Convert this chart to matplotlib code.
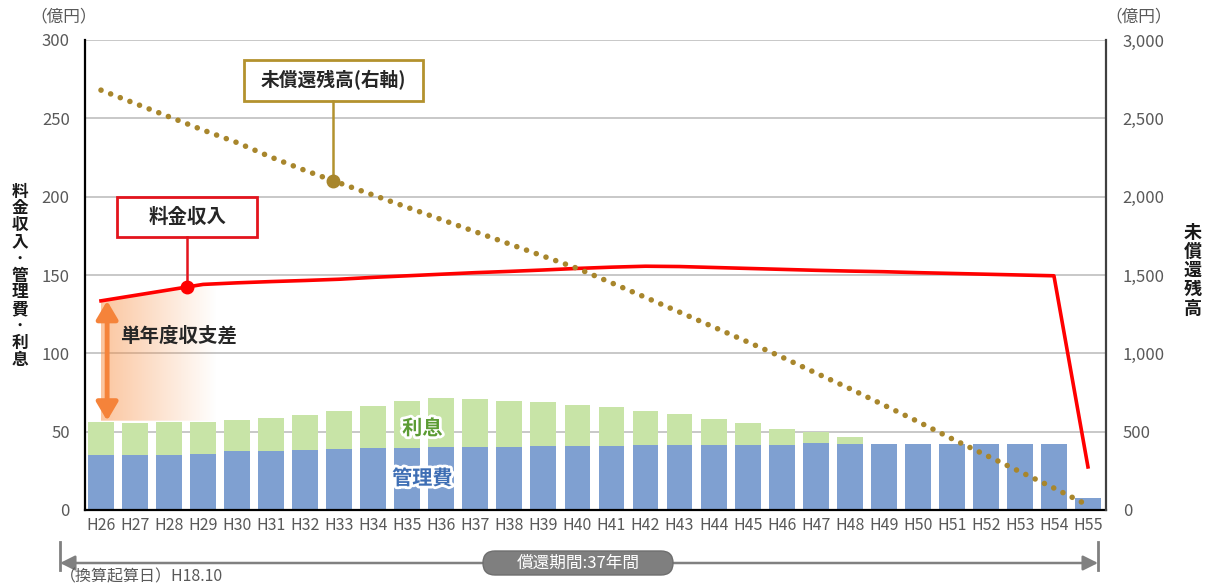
import matplotlib.pyplot as plt
import numpy as np
import matplotlib.patheffects as pe
from matplotlib.patches import Rectangle, FancyBboxPatch, Polygon
from matplotlib.lines import Line2D
from matplotlib.ticker import FuncFormatter

plt.rcParams['font.family'] = ['Noto Sans CJK JP', 'DejaVu Sans']

# --- data (億円) ---
years = ['H%d' % y for y in range(26, 56)]
kanri = [34.8, 35.0, 35.4, 36.0, 37.7, 37.7, 38.1, 38.7, 39.6, 39.8,
         40.0, 40.2, 40.2, 40.9, 40.9, 40.9, 41.3, 41.3, 41.3, 41.3,
         41.5, 42.6, 42.1, 42.1, 42.1, 42.1, 42.1, 42.1, 42.1, 7.7]
rishi = [21.2, 20.5, 20.6, 20.0, 19.8, 20.8, 22.5, 24.3, 27.0, 30.0,
         31.5, 30.7, 29.6, 27.8, 26.1, 24.6, 21.9, 20.0, 16.6, 14.0,
         10.4, 7.2, 4.5, 0, 0, 0, 0, 0, 0, 0]
ryokin = [133.5, 137.0, 140.5, 144.0, 145.0, 145.8, 146.5, 147.3, 148.5, 149.5,
          150.5, 151.5, 152.3, 153.2, 154.2, 155.0, 155.6, 155.4, 154.8, 154.2,
          153.6, 153.0, 152.5, 152.1, 151.5, 151.0, 150.5, 150.0, 149.5, 27.5]
zandaka = [2680, 2595, 2510, 2425, 2345, 2252, 2167, 2088, 2010, 1932,
           1854, 1776, 1698, 1620, 1542, 1450, 1357, 1263, 1168, 1073,
           977, 875, 775, 670, 565, 455, 350, 245, 140, 30]

BLUE = '#7FA0D1'
GREEN = '#C8E4A7'
RED = '#FF0000'
GOLD = '#A8862C'
GRAY = '#595959'

fig = plt.figure(figsize=(12.06, 5.88), dpi=100)
ax = fig.add_axes([85 / 1206, 78 / 588, 1021 / 1206, 470 / 588])
ax2 = ax.twinx()

x = np.arange(len(years))

ax.bar(x, kanri, width=0.76, color=BLUE, zorder=2)
ax.bar(x, rishi, width=0.76, bottom=kanri, color=GREEN, zorder=2)
ax.plot(x, ryokin, color=RED, lw=2.6, zorder=4)

# gradient for 単年度収支差
base = kanri[0] + rishi[0] + 1
gx = np.linspace(0.0, 3.4, 60)
top = np.interp(gx, x, ryokin)
poly = Polygon(list(zip(gx, top)) + [(gx[-1], base), (gx[0], base)], closed=True,
               facecolor='none', edgecolor='none', transform=ax.transData)
ax.add_patch(poly)
grad = np.zeros((1, 256, 4))
grad[..., 0], grad[..., 1], grad[..., 2] = 0.97, 0.55, 0.25
grad[..., 3] = np.linspace(0.5, 0.0, 256)
im = ax.imshow(grad, extent=[gx[0], gx[-1], base, 145], aspect='auto',
               zorder=1.5, interpolation='bicubic')
im.set_clip_path(poly)

ax.annotate('', xy=(0.18, base), xytext=(0.18, ryokin[0]),
            arrowprops=dict(arrowstyle='<|-|>,head_length=1.1,head_width=0.65',
                            color='#F5833A', lw=3.5, mutation_scale=10,
                            shrinkA=0, shrinkB=0), zorder=3)
ax.text(0.56, 111, '単年度収支差', fontsize=14, fontweight='bold',
        color='#262626', ha='left', va='center', zorder=5)

# bar labels
ax.text(9.44, 52.3, '利息', fontsize=14.5, fontweight='bold', color='#5B9B33',
        ha='center', va='center', zorder=5,
        path_effects=[pe.withStroke(linewidth=4, foreground='white')])
ax.text(9.44, 20.4, '管理費', fontsize=14.5, fontweight='bold', color='#3E6EB4',
        ha='center', va='center', zorder=5,
        path_effects=[pe.withStroke(linewidth=4, foreground='white')])

# 料金収入 callout
rx = 2.53
ry = np.interp(rx, x, ryokin)
ax.add_patch(Rectangle((0.47, 174.2), 4.12, 25.5, facecolor='white',
                       edgecolor='#E3141D', lw=2, zorder=5))
ax.text(rx, 187, '料金収入', fontsize=14, fontweight='bold', color='#262626',
        ha='center', va='center', zorder=6)
ax.plot([rx, rx], [174.2, ry], color='#E3141D', lw=1.8, zorder=5)
ax.plot([rx], [ry], 'o', color=RED, ms=9, zorder=6)

# 未償還残高 callout
gx0 = 6.82
gy = np.interp(gx0, x, zandaka) / 10
ax.add_patch(Rectangle((4.21, 261.0), 5.26, 26.2, facecolor='white',
                       edgecolor='#B3922E', lw=2, zorder=5))
ax.text(6.84, 274.4, '未償還残高(右軸)', fontsize=13.5, fontweight='bold',
        color='#262626', ha='center', va='center', zorder=6)
ax.plot([gx0, gx0], [261.0, gy], color='#B3922E', lw=1.8, zorder=5)
ax.plot([gx0], [gy], 'o', color=GOLD, ms=9, zorder=6)

ax2.plot(x, zandaka, color=GOLD, lw=4.0, linestyle=(0, (0.01, 1.85)),
         dash_capstyle='round')

# axes styling
ax.set_xlim(-0.47, 29.53)
ax.set_ylim(0, 300)
ax.set_yticks(range(0, 301, 50))
ax.set_xticks(x, years)
ax.yaxis.grid(True, color='#BFBFBF', lw=1.2)
ax.set_axisbelow(True)
ax.tick_params(axis='y', length=0, pad=11, labelsize=12, labelcolor=GRAY)
ax.tick_params(axis='x', length=0, pad=5, labelsize=11.5, labelcolor=GRAY)
for s in ['top', 'right']:
    ax.spines[s].set_visible(False)
ax.spines['left'].set_linewidth(1.6)
ax.spines['bottom'].set_linewidth(1.6)

ax2.set_ylim(0, 3000)
ax2.set_yticks(range(0, 3001, 500))
ax2.yaxis.set_major_formatter(FuncFormatter(lambda v, p: f'{int(v):,}'))
ax2.tick_params(axis='y', length=0, pad=12, labelsize=12, labelcolor=GRAY)
for s in ['top', 'left', 'bottom']:
    ax2.spines[s].set_visible(False)
ax2.spines['right'].set_color('#404040')
ax2.spines['right'].set_linewidth(1.6)

# axis titles
tr = fig.dpi_scale_trans
fig.text(0.64, 5.71, '（億円）', transform=tr, fontsize=12, color=GRAY,
         ha='center', va='center')
fig.text(11.39, 5.71, '（億円）', transform=tr, fontsize=12, color=GRAY,
         ha='center', va='center')
for i, ch in enumerate('料金収入･管理費･利息'):
    fig.text(0.20, (588 - (191.7 + 16.8 * i)) / 100, ch, transform=tr,
             fontsize=12, fontweight='bold', color='#1a1a1a',
             ha='center', va='center')
for i, ch in enumerate('未償還残高'):
    fig.text(11.93, (588 - (233 + 18.75 * i)) / 100, ch, transform=tr,
             fontsize=13, fontweight='bold', color='#1a1a1a',
             ha='center', va='center')

# repayment period bar
fig.add_artist(Line2D([0.60, 0.60], [0.18, 0.46], transform=tr,
                      color='#808080', lw=2))
fig.add_artist(Line2D([10.98, 10.98], [0.18, 0.46], transform=tr,
                      color='#808080', lw=2))
ax.annotate('', xy=(0.60, 0.25), xytext=(10.98, 0.25),
            xycoords=tr, textcoords=tr,
            arrowprops=dict(arrowstyle='<|-|>,head_length=0.9,head_width=0.45',
                            color='#808080', lw=1.8, mutation_scale=10,
                            shrinkA=0, shrinkB=0), annotation_clip=False)
fig.add_artist(FancyBboxPatch((4.83, 0.13), 1.90, 0.24,
                              boxstyle='round,pad=0,rounding_size=0.12',
                              transform=tr, facecolor='#7F7F7F',
                              edgecolor='#6f6f6f', lw=1))
fig.text(5.78, 0.25, '償還期間:37年間', transform=tr, fontsize=12,
         color='white', ha='center', va='center')
fig.text(0.60, 0.11, '（換算起算日）H18.10', transform=tr, fontsize=11.5,
         color=GRAY, ha='left', va='center')

fig.savefig('out.png', dpi=100)
